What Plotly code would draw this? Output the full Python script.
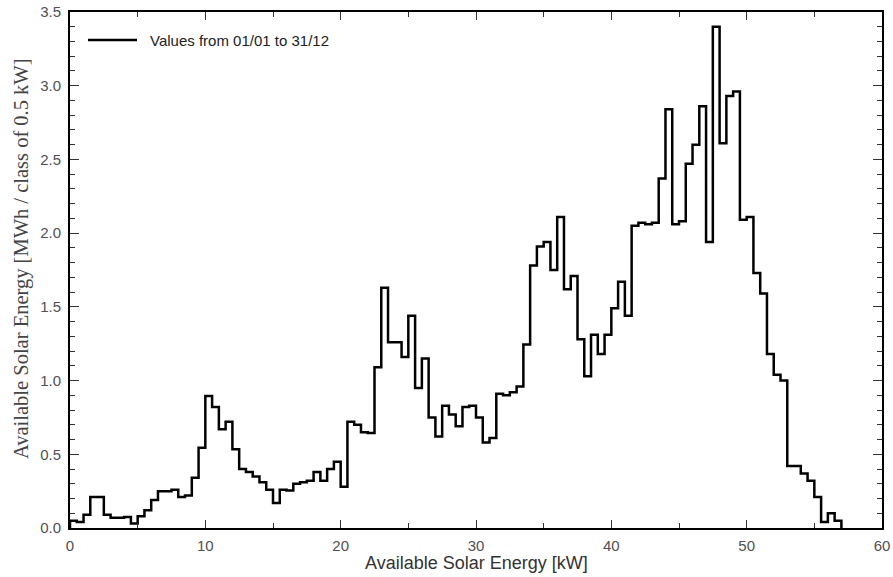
import plotly.graph_objects as go

# Energy per 0.5 kW class (MWh), classes starting at 0, 0.5, ..., 56.5 kW
bin_width = 0.5
energy = [
    0.05, 0.04, 0.09, 0.21, 0.21, 0.09, 0.07, 0.07, 0.075, 0.03,
    0.08, 0.12, 0.19, 0.25, 0.25, 0.26, 0.21, 0.22, 0.34, 0.545,
    0.895, 0.82, 0.67, 0.72, 0.535, 0.40, 0.38, 0.35, 0.31, 0.26,
    0.17, 0.26, 0.255, 0.30, 0.31, 0.32, 0.38, 0.32, 0.40, 0.45,
    0.28, 0.72, 0.70, 0.65, 0.645, 1.09, 1.63, 1.26, 1.26, 1.16,
    1.44, 0.95, 1.15, 0.75, 0.62, 0.83, 0.77, 0.69, 0.82, 0.83,
    0.75, 0.58, 0.61, 0.91, 0.90, 0.92, 0.96, 1.245, 1.78, 1.91,
    1.94, 1.75, 2.11, 1.62, 1.71, 1.28, 1.03, 1.31, 1.18, 1.31,
    1.49, 1.67, 1.44, 2.05, 2.07, 2.06, 2.07, 2.37, 2.84, 2.06,
    2.08, 2.47, 2.60, 2.86, 1.94, 3.40, 2.61, 2.93, 2.96, 2.09,
    2.11, 1.73, 1.59, 1.18, 1.04, 1.00, 0.42, 0.42, 0.37, 0.32,
    0.21, 0.04, 0.10, 0.05,
]
class_start = [i * bin_width for i in range(len(energy))]
class_end = class_start[-1] + bin_width

legend_label = "Values from 01/01 to 31/12"
x_title = "Available Solar Energy [kW]"
y_title = "Available Solar Energy [MWh / class of 0.5 kW]"
y_ticks = [0.0, 0.5, 1.0, 1.5, 2.0, 2.5, 3.0, 3.5]
x_ticks = [0, 10, 20, 30, 40, 50, 60]

xs = [class_start[0]] + class_start + [class_end]
ys = [0] + energy + [0]

fig = go.Figure()
fig.add_trace(go.Scatter(
    x=xs, y=ys, mode="lines", line=dict(shape="hv", color="black", width=2.5),
    showlegend=False, hoverinfo="skip",
))

sans = "Liberation Sans, Arial, sans-serif"
serif = "Liberation Serif, Times New Roman, serif"
tick_font = dict(family=sans, size=15, color="#505050")

fig.update_xaxes(
    range=[0, 60], tickvals=x_ticks, ticktext=[str(v) for v in x_ticks],
    showgrid=False, zeroline=False, showline=True, linecolor="black", linewidth=2,
    mirror="ticks", ticks="inside", ticklen=8, tickwidth=1, tickcolor="#333333",
    minor=dict(dtick=5, ticks="inside", ticklen=5, tickwidth=1, tickcolor="#333333", showgrid=False),
    tickfont=tick_font, ticklabelstandoff=3, automargin=False,
)
fig.update_yaxes(
    range=[0, 3.5], tickvals=y_ticks, ticktext=[f"{v:.1f}" for v in y_ticks],
    showgrid=False, zeroline=False, showline=True, linecolor="black", linewidth=2,
    mirror="ticks", ticks="inside", ticklen=9, tickwidth=1, tickcolor="#333333",
    minor=dict(dtick=0.1, ticks="inside", ticklen=5, tickwidth=1, tickcolor="#333333", showgrid=False),
    tickfont=tick_font, ticklabelstandoff=4, automargin=False,
)

# axis titles
fig.add_annotation(xref="paper", yref="paper", x=0.5, y=-0.0678, text=x_title, showarrow=False,
                   xanchor="center", yanchor="middle",
                   font=dict(family=sans, size=18, color="#333333"))
fig.add_annotation(xref="paper", yref="paper", x=-0.0603, y=0.5213, text=y_title, showarrow=False,
                   xanchor="center", yanchor="middle", textangle=-90,
                   font=dict(family=serif, size=20.5, color="#444444"))

# manual legend
fig.add_shape(type="line", xref="paper", yref="paper", x0=0.0222, x1=0.0825, y0=0.9457, y1=0.9457,
              line=dict(color="black", width=2.5))
fig.add_annotation(xref="paper", yref="paper", x=0.096, y=0.9457, text=legend_label, showarrow=False,
                   xanchor="left", yanchor="middle",
                   font=dict(family=sans, size=15, color="#222222"))

fig.update_layout(
    width=893, height=577,
    margin=dict(l=70, r=11, t=12, b=49),
    plot_bgcolor="white", paper_bgcolor="white",
    showlegend=False,
)

# remove the default page margin so the figure fills the 893x577 window
fig.write_html(
    "out.html",
    config={"displayModeBar": False, "staticPlot": True},
    post_script="document.body.style.margin='0';document.body.style.overflow='hidden';",
)
